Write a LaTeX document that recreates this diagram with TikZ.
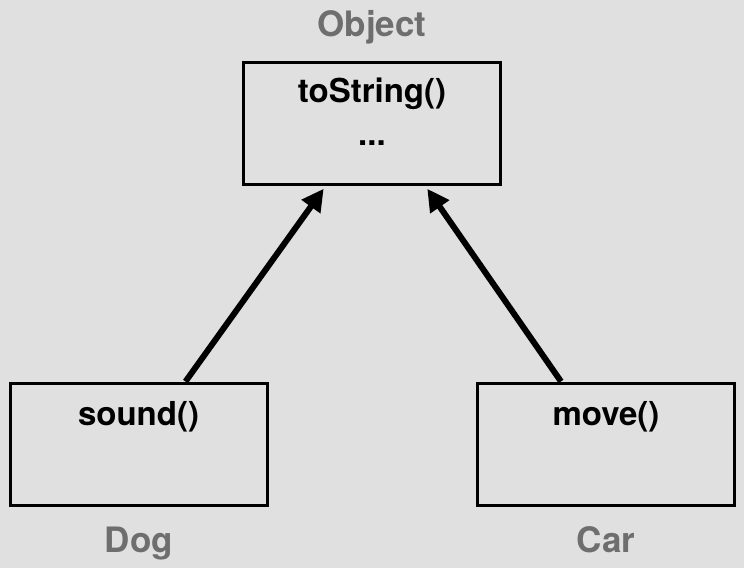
\documentclass[tikz,border=0pt]{standalone}
\usepackage{fontspec}
\setmainfont{TeX Gyre Heros}
\usepackage{xcolor}
\usepackage{tikz}
\usetikzlibrary{arrows.meta, positioning}
\definecolor{bggray}{HTML}{E0E0E0}
\definecolor{labelgray}{HTML}{6E6E6E}

\begin{document}
\begin{tikzpicture}[x=1pt, y=-1pt,
  every node/.style={anchor=base, font=\bfseries\fontsize{33}{38}\selectfont},
  classbox/.style={draw, line width=3pt, rectangle, anchor=center, minimum width=257pt, minimum height=122pt, inner sep=0pt},
  classname/.style={text=labelgray, font=\bfseries\fontsize{35}{40}\selectfont},
  >={Triangle[length=22pt, width=22pt]}]
  \useasboundingbox[fill=bggray] (0,0) rectangle (744,568);

  % Object on top
  \node[classbox] (object) at (372,123) {};
  \node (tostring) at (372,102) {toString()};
  \node (dots) at (372,145) {...};
  \node[classname] (objname) at (372,36) {Object};

  % Dog (left) and Car (right)
  \node[classbox] (dog) at (138.5,444) {};
  \node (sound) at (138.5,425) {sound()};
  \node[classname] (dogname) at (139,552) {Dog};

  \node[classbox] (car) at (606,444) {};
  \node (move) at (606,425) {move()};
  \node[classname] (carname) at (606,552) {Car};

  \draw[->, line width=6pt, shorten >=4pt] ([xshift=47pt]dog.north) -- ([xshift=-46pt]object.south);
  \draw[->, line width=6pt, shorten >=4pt] ([xshift=-45pt]car.north) -- ([xshift=53pt]object.south);
\end{tikzpicture}
\end{document}
